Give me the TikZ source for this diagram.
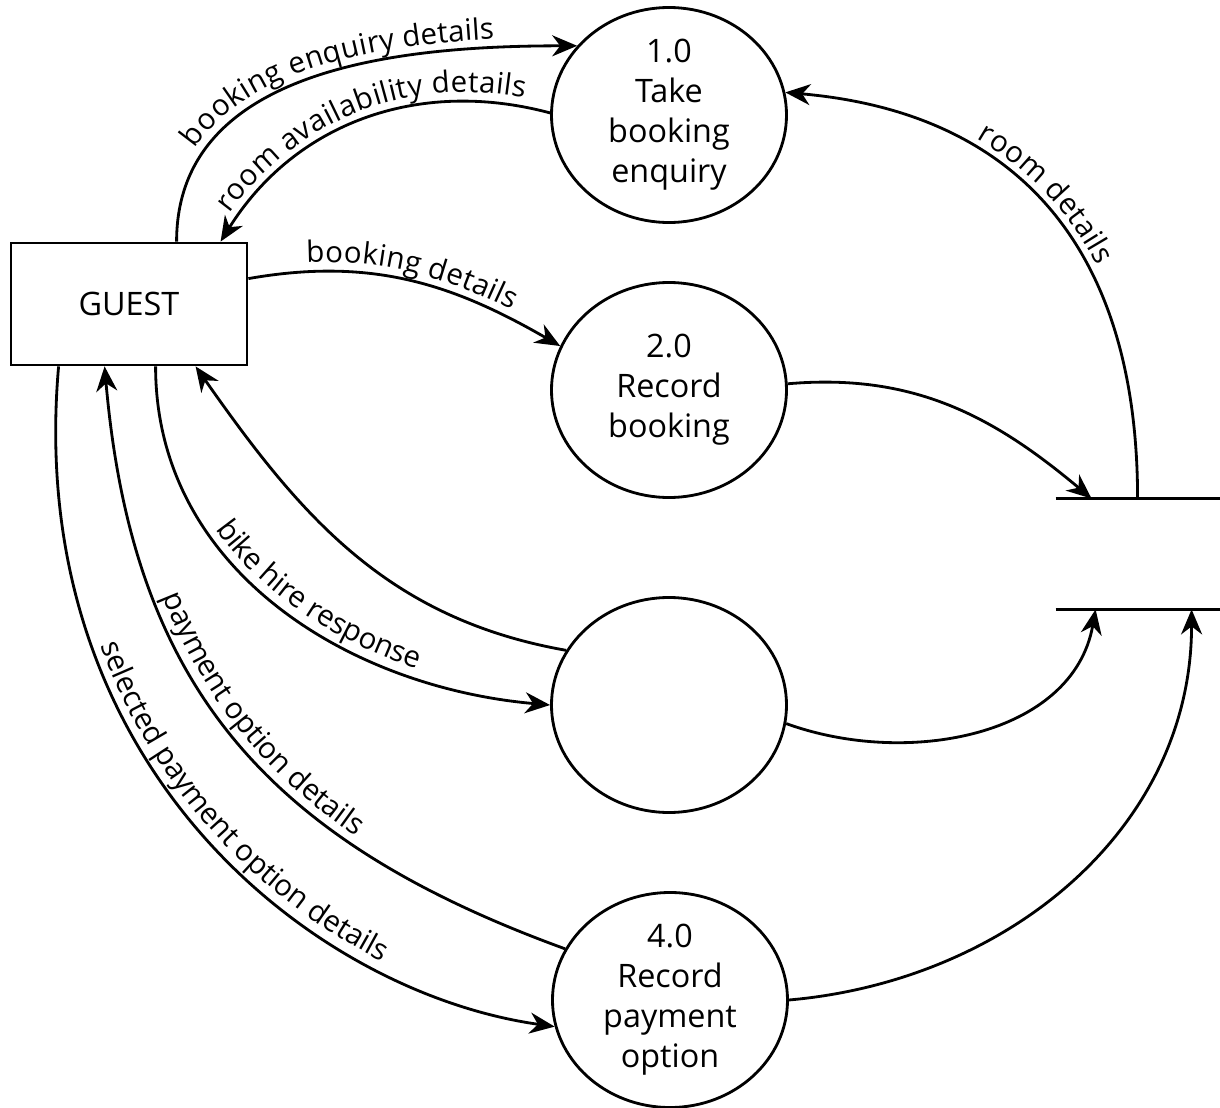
\documentclass[tikz,border=0pt]{standalone}
\usepackage{fontspec}
\setmainfont{Open Sans}
\usetikzlibrary{shapes.geometric,arrows.meta,decorations.text}
\AtBeginDocument{\fontsize{8.4pt}{10pt}\selectfont}

\begin{document}
\begin{tikzpicture}[line width=0.8pt,
  process/.style={ellipse,draw,minimum width=2.35cm,minimum height=2.15cm,inner sep=0pt,align=center,font=\fontsize{9.2pt}{11.4pt}\selectfont},
  entity/.style={rectangle,draw,minimum width=2.36cm,minimum height=1.22cm,font=\fontsize{9.2pt}{11.4pt}\selectfont},
  flow/.style={-{Stealth[length=2.5mm,width=2.1mm,inset=0.8mm]}},
  flowtext/.style 2 args={postaction={decorate,decoration={text along path,text={#2},raise=2.5pt,text align={center,#1}}}},
  flowtextrev/.style 2 args={postaction={decorate,decoration={text along path,reverse path,text={#2},raise=2.5pt,text align={center,#1}}}}]
  \useasboundingbox (0,0) rectangle (12.2,-11.08);

  \node[entity] (guest) at (1.29,-3.04) {GUEST};
  \node[process] (p1) at (6.69,-1.15) {1.0\\Take\\booking\\enquiry};
  \node[process] (p2) at (6.69,-3.90) {2.0\\Record\\booking};
  \node[process] (p3) at (6.69,-7.05) {};
  \node[process] (p4) at (6.70,-10.00) {4.0\\Record\\payment\\option};

  % data store, open at the right
  \node[minimum width=1.63cm,minimum height=1.08cm,inner sep=0pt] (store) at (11.385,-5.54) {};
  \draw (store.north west) -- (store.north east);
  \draw (store.south west) -- (store.south east);

  \draw[flow,flowtext={left indent=0.1cm}{booking enquiry details}] ([xshift=1.67cm]guest.north west) to[out=90,in=180] (p1.143);
  \draw[flow,flowtextrev={}{room availability details}] (p1.179) to[out=165,in=58] ([xshift=2.11cm]guest.north west);
  \draw[flow,flowtext={}{booking details}] ([yshift=-0.37cm]guest.north east) to[out=10,in=150] (p2.158);
  \draw[flow] (p2.3) to[out=5,in=140] ([xshift=0.36cm]store.north west);
  \draw[flow,flowtextrev={right indent=0.4cm}{room details}] ([xshift=0.82cm]store.north west) to[out=90,in=355,looseness=1.15] (p1.11);

  \draw[flow] (p3.152) to[out=170,in=-55] ([xshift=1.86cm]guest.south west);
  \draw[flow,flowtext={left indent=0.4cm}{bike hire response}] ([xshift=1.46cm]guest.south west) to[out=-90,in=175] (p3.180);
  \draw[flow] (p3.351) to[out=-20,in=-100] ([xshift=0.40cm]store.south west);

  \draw[flow,flowtextrev={}{payment option details}] (p4.154) to[out=160,in=-85,looseness=1.1] ([xshift=0.95cm]guest.south west);
  \draw[flow,flowtext={left indent=1.0cm}{selected payment option details}] ([xshift=0.49cm]guest.south west) to[out=-95,in=172,out looseness=1.25,in looseness=0.75] (p4.193);
  \draw[flow] (p4.0) to[out=5,in=-90] ([xshift=1.36cm]store.south west);
\end{tikzpicture}
\end{document}
